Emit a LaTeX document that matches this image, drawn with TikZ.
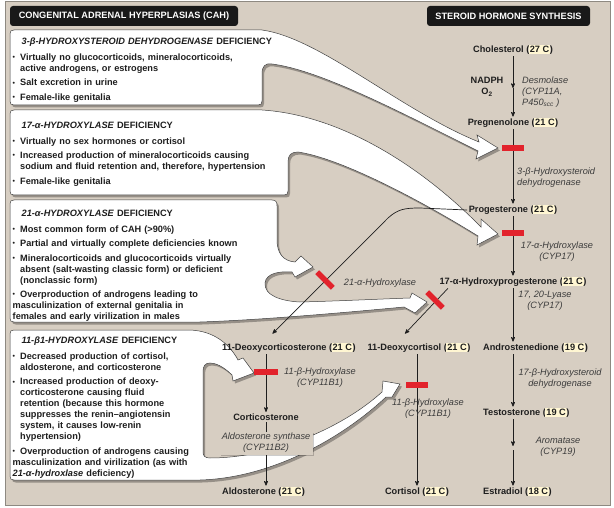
\documentclass[tikz,border=0pt]{standalone}
\usepackage{fontspec}
\setmainfont{Liberation Sans}
\usepackage{graphicx}
\usetikzlibrary{arrows,shadows,calc}

\definecolor{bg}{HTML}{D7CEC2}
\definecolor{frm}{HTML}{8E8981}
\definecolor{hl}{HTML}{FFF6D2}
\definecolor{blkred}{HTML}{E2232C}
\definecolor{ink}{HTML}{1E1E1E}
\definecolor{enzc}{HTML}{3C3C3C}

\setlength{\parindent}{0pt}
\setlength{\fboxsep}{1pt}
\newcommand{\fsz}{\fontsize{9.2pt}{11pt}\selectfont}
% carbon count with highlight
\newcommand{\cn}[1]{(\kern-0.5pt\colorbox{hl}{#1}\kern-0.5pt)}
% panel heading, bullets, line break inside a bullet
\newcommand{\hd}[1]{\hspace*{9pt}\textit{#1} DEFICIENCY\par\vspace{1.5pt}}
\newcommand{\bul}{\par\vspace{3.5pt}\hangindent=7.5pt\hangafter=1\makebox[7.5pt][l]{\raisebox{0.8pt}{\scalebox{0.75}{\textbullet}}}}
\newcommand{\nl}{\hfil\break}

\begin{document}
\begin{tikzpicture}[%
    x=1pt,
    y=-1pt,
    >=stealth',
    to/.style={->, line width=0.7pt, draw=ink},
    panel/.style={fill=white, draw=black!75, line width=0.5pt, drop shadow={shadow xshift=2pt, shadow yshift=-2.5pt, opacity=0.3, fill=black}},
    head/.style={fill=black!90, rounded corners=3pt, text=white, font=\fsz\bfseries, minimum height=20pt, inner sep=0pt},
    txt/.style={anchor=north west, align=left, text width=290pt, inner sep=0pt, font=\fsz\bfseries, text=ink},
    cmpd/.style={font=\fsz\bfseries, text=ink, inner sep=1.5pt},
    enz/.style={font=\fsz\itshape, text=enzc, align=center, inner sep=1pt},
    blk/.style={fill=blkred, minimum width=22pt, minimum height=5.5pt, inner sep=0pt}
    ]

    \useasboundingbox (0,0) rectangle (614,508);
    \draw[draw=frm, fill=bg, line width=0.8pt] (5,1.5) rectangle (610.5,505);

    \node[head, minimum width=228pt] (cah) at (124,16) {CONGENITAL ADRENAL HYPERPLASIAS (CAH)};
    \node[head, minimum width=163pt] (shs) at (508.5,16) {STEROID HORMONE SYNTHESIS};

    % deficiency panels with their arrows
    \path[panel] (14,30) -- (262,30) .. controls (320,38) and (400,110) .. (479,142) -- (477,135) -- (498,148) -- (476,159) -- (478,151)
        .. controls (400,112) and (320,70) .. (272,64) .. controls (265,63) and (262,66) .. (262,74) -- (262,101)
        .. controls (262,104) and (261,105) .. (258,105) -- (14,105) .. controls (11,105) and (10,104) .. (10,101) -- (10,34)
        .. controls (10,31) and (11,30) .. (14,30) -- cycle;
    \path[panel] (14,110) -- (262,110) .. controls (340,115) and (420,165) .. (481,227) -- (481,219) -- (498,234) -- (477,245) -- (478,236)
        .. controls (420,200) and (340,158) .. (298,152) .. controls (291,152) and (288,155) .. (288,162) -- (288,191)
        .. controls (288,194) and (287,195) .. (284,195) -- (14,195) .. controls (11,195) and (10,194) .. (10,191) -- (10,114)
        .. controls (10,111) and (11,110) .. (14,110) -- cycle;
    \path[panel] (14,200) -- (272,200) .. controls (276,200) and (277,202) .. (277,206) -- (277,240)
        .. controls (277,253) and (283,261) .. (295,262) -- (301,256) -- (313,267) -- (295,277) -- (292,272)
        .. controls (280,271) and (266,273) .. (265,283) .. controls (264,295) and (280,301) .. (300,302)
        .. controls (340,301) and (380,299) .. (410,298) -- (412,293) -- (427,302) -- (415,313) -- (404,307)
        .. controls (340,313) and (260,320) .. (200,322) -- (14,322) .. controls (11,322) and (10,321) .. (10,318) -- (10,204)
        .. controls (10,201) and (11,200) .. (14,200) -- cycle;
    \path[panel] (14,330) -- (190,330) .. controls (215,331) and (230,345) .. (238,360) -- (243,358) -- (254,373) -- (233,381) -- (232,375)
        .. controls (224,367) and (216,363) .. (210,363) .. controls (205,363) and (203,366) .. (203,372) -- (203,452)
        .. controls (203,456) and (205,458) .. (210,458) .. controls (270,458) and (340,430) .. (382,392) -- (383,381) -- (400,384)
        -- (392,397) -- (386,397) .. controls (340,440) and (270,478) .. (200,480) -- (14,480) .. controls (11,480) and (10,479) .. (10,476)
        -- (10,334) .. controls (10,331) and (11,330) .. (14,330) -- cycle;

    \node[txt] (p1) at (12.5,37.5) {\hd{3-β-HYDROXYSTEROID DEHYDROGENASE}\bul Virtually no glucocorticoids, mineralocorticoids,\nl active androgens, or estrogens\bul Salt excretion in urine\bul Female-like genitalia};
    \node[txt] (p2) at (12.5,121.5) {\hd{17-α-HYDROXYLASE}\bul Virtually no sex hormones or cortisol\bul Increased production of mineralocorticoids causing\nl sodium and fluid retention and, therefore, hypertension\bul Female-like genitalia};
    \node[txt] (p3) at (12.5,209.5) {\hd{21-α-HYDROXYLASE}\bul Most common form of CAH (>90\%)\bul Partial and virtually complete deficiencies known\bul Mineralocorticoids and glucocorticoids virtually\nl absent (salt-wasting classic form) or deficient\nl (nonclassic form)\bul Overproduction of androgens leading to\nl masculinization of external genitalia in\nl females and early virilization in males};
    \node[txt] (p4) at (12.5,336.5) {\hd{11-β1-HYDROXYLASE}\bul Decreased production of cortisol,\nl aldosterone, and corticosterone\bul Increased production of deoxy-\nl corticosterone causing fluid\nl retention (because this hormone\nl suppresses the renin–angiotensin\nl system, it causes low-renin\nl hypertension)\bul Overproduction of androgens causing\nl masculinization and virilization (as with\nl \textit{21-α-hydroxlase} deficiency)};

    % steroids
    \node[cmpd] (chol) at (513,50) {Cholesterol \cn{27 C}};
    \node[cmpd] (preg) at (513,123) {Pregnenolone \cn{21 C}};
    \node[cmpd] (prog) at (513,210) {Progesterone \cn{21 C}};
    \node[cmpd] (ohp) at (513,282) {17-α-Hydroxyprogesterone \cn{21 C}};
    \node[cmpd, anchor=west] (doc) at (220.5,348) {11-Deoxycorticosterone \cn{21 C}};
    \node[cmpd] (dcort) at (419,348) {11-Deoxycortisol \cn{21 C}};
    \node[cmpd, anchor=west] (andro) at (481.5,348) {Androstenedione \cn{19 C}};
    \node[cmpd] (cortico) at (266,417) {Corticosterone};
    \node[cmpd, anchor=west] (testo) at (481.5,413) {Testosterone \cn{19 C}};
    \node[cmpd, anchor=west] (aldo) at (220.5,492) {Aldosterone \cn{21 C}};
    \node[cmpd] (cortisol) at (417,492) {Cortisol \cn{21 C}};
    \node[cmpd, anchor=west] (estra) at (481.5,492) {Estradiol \cn{18 C}};

    \coordinate (nad) at (513,88);
    \coordinate (aro1) at (513,446);
    \coordinate (aro2) at (513,450);

    \draw[to] (chol.south) -- (nad);
    \draw[to] (nad) -- (preg.north);
    \draw[to] (preg) -- (prog);
    \draw[to] (prog) -- (ohp);
    \draw[to] (ohp.south) -- (ohp.south |- andro.north);
    \draw[to] (andro.south -| ohp.south) -- (testo.north -| ohp.south);
    \draw[to] (testo.south -| ohp.south) -- (aro1);
    \draw[to] (aro2) -- (estra.north -| ohp.south);
    \draw[to] (prog.west) -- (420,208) .. controls (405,208) and (398,209) .. (388,218) -- ($(doc.north west)+(52,-8)$);
    \draw[to] ([xshift=10pt]ohp.south west) -- ([xshift=-14pt,yshift=8pt]dcort.north);
    \draw[to] (doc.south -| cortico) -- (cortico);
    \draw[to] (cortico) -- (cortico |- aldo.north);
    \draw[to] (dcort.south -| cortisol) -- (cortisol);

    % blocked steps
    \node[blk] (bar1) at (513,148) {};
    \node[blk] (bar2) at (513,233) {};
    \node[blk, rotate=-45] (bar3) at (325,280) {};
    \node[blk, rotate=-45] (bar4) at (435,300) {};
    \node[blk, minimum width=24pt] (bar5) at (266,372) {};
    \node[blk] (bar6) at (417,385) {};

    % enzymes
    \node[cmpd, align=center] (nadph) at (487,87) {NADPH\\O\textsubscript{2}};
    \node[enz, align=left, anchor=west] (desm) at (521,92) {Desmolase\\(CYP11A,\\P450\textsubscript{scc} )};
    \node[enz, align=left, anchor=west] (hsd3) at (516,178) {3-β-Hydroxysteroid\\dehydrogenase};
    \node[enz] (hyd17) at (557,252) {17-α-Hydroxylase\\(CYP17)};
    \node[enz] (lyase) at (545,301) {17, 20-Lyase\\(CYP17)};
    \node[enz] (hsd17) at (560,379) {17-β-Hydroxysteroid\\dehydrogenase};
    \node[enz] (arom) at (558,447) {Aromatase\\(CYP19)};
    \node[enz] (hyd11a) at (320,378) {11-β-Hydroxylase\\(CYP11B1)};
    \node[enz] (hyd11b) at (428,409) {11-β-Hydroxylase\\(CYP11B1)};
    \node[enz] (hyd21) at (380,283) {21-α-Hydroxylase};
    \node[enz, fill=bg, minimum width=93pt, minimum height=23pt, drop shadow={shadow xshift=1.5pt, shadow yshift=-1.5pt, opacity=0.2, fill=black}] (alds) at (266,443) {Aldosterone synthase\\(CYP11B2)};

\end{tikzpicture}
\end{document}
